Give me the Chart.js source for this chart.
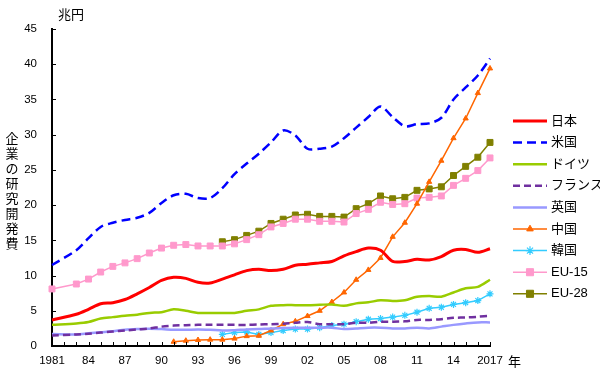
<!DOCTYPE html>
<html>
<head>
<meta charset="utf-8">
<script src="https://cdn.jsdelivr.net/npm/chart.js@4/dist/chart.umd.min.js"></script>
<style>
  html, body { margin: 0; padding: 0; background: #fff; }
  #wrap { width: 600px; height: 373px; position: relative; }
</style>
</head>
<body>
<div id="wrap"><canvas id="myChart" width="600" height="373"></canvas></div>
<script>
const years = [];
for (let y = 1981; y <= 2017; y++) years.push(y);

const tickYears = [1981, 1984, 1987, 1990, 1993, 1996, 1999, 2002, 2005, 2008, 2011, 2014, 2017];

const japan = [3.7, null, 4.5, 5.2, 6.0, 6.15, 6.6, 7.4, 8.3, 9.3,
    9.75, 9.6, 9.05, 8.95, 9.5, 10.1, 10.7, 10.9, 10.7, 10.9,
    11.45, 11.6, 11.8, 12.0, 12.8, 13.4, 13.9, 13.6, 12.0, 12.0,
    12.3, 12.2, 12.7, 13.6, 13.7, 13.3, 13.8];
const usa = [11.5, null, 13.6, 15.3, 16.9, 17.5, 17.9, 18.2, 18.9, 20.3,
    21.4, 21.6, 21.0, 21.0, 22.4, 24.4, 25.9, 27.3, 28.9, 30.6,
    29.9, 28.0, 28.0, 28.3, 29.5, 31.0, 32.5, 34.0, 32.5, 31.2,
    31.5, 31.6, 32.4, 35.0, 36.7, 38.4, 40.8];
const germany = [3.0, null, 3.2, 3.4, 3.9, 4.1, 4.3, 4.45, 4.7, 4.8,
    5.2, 5.0, 4.7, 4.7, 4.7, 4.7, 5.0, 5.2, 5.7, 5.8,
    5.8, 5.8, 5.85, 5.9, 5.7, 6.05, 6.2, 6.5, 6.4, 6.5,
    7.0, 7.1, 7.0, 7.6, 8.2, 8.4, 9.4];
const france = [1.5, null, 1.65, 1.75, 1.9, 2.05, 2.2, 2.35, 2.5, 2.75,
    2.9, 2.95, 3.0, 3.0, 3.0, 3.0, 3.0, 3.05, 3.1, 3.15,
    3.3, 3.4, 3.1, 3.1, 3.1, 3.3, 3.3, 3.45, 3.45, 3.5,
    3.7, 3.7, 3.8, 4.0, 4.05, 4.15, 4.3];
const uk = [1.7, null, 1.65, 1.8, 1.95, 2.1, 2.3, 2.4, 2.45, 2.4,
    2.3, 2.3, 2.35, 2.3, 2.2, 2.25, 2.35, 2.4, 2.5, 2.55,
    2.6, 2.6, 2.6, 2.6, 2.4, 2.5, 2.6, 2.6, 2.5, 2.5,
    2.6, 2.5, 2.75, 3.0, 3.2, 3.35, 3.35];
const china = [null, null, null, null, null, null, null, null, null, null,
    0.6, 0.75, 0.85, 0.9, 0.9, 1.05, 1.4, 1.45, 2.2, 3.1,
    3.5, 4.25, 5.0, 6.25, 7.6, 9.4, 10.8, 12.5, 15.5, 17.5,
    20.2, 23.3, 26.3, 29.5, 32.3, 35.9, 39.4];
const korea = [null, null, null, null, null, null, null, null, null, null,
    null, null, null, null, 1.65, 1.9, 2.0, 1.65, 1.9, 2.2,
    2.4, 2.4, 2.6, 2.9, 3.1, 3.45, 3.8, 3.9, 4.1, 4.35,
    4.8, 5.35, 5.5, 5.9, 6.15, 6.45, 7.4];
const eu15 = [8.1, null, 8.8, 9.5, 10.5, 11.3, 11.8, 12.4, 13.2, 13.9,
    14.3, 14.4, 14.2, 14.2, 14.2, 14.5, 15.1, 15.8, 16.9, 17.4,
    18.0, 18.0, 17.7, 17.7, 17.6, 18.8, 19.4, 20.4, 20.1, 20.2,
    21.0, 21.1, 21.3, 22.8, 23.8, 24.9, 26.7];
const eu28 = [null, null, null, null, null, null, null, null, null, null,
    null, null, null, null, 14.8, 15.1, 15.7, 16.3, 17.4, 18.0,
    18.6, 18.7, 18.4, 18.4, 18.3, 19.5, 20.2, 21.3, 20.9, 21.1,
    22.1, 22.3, 22.6, 24.2, 25.5, 26.8, 28.9];

const FONT = '"Liberation Sans", "Noto Sans CJK JP", sans-serif';

function plainLine(label, data, color, width, dash) {
    return {
        label: label,
        data: data,
        borderColor: color,
        backgroundColor: color,
        borderWidth: width,
        borderDash: dash || [],
        pointRadius: 0,
        tension: 0.3,
        spanGaps: true
    };
}

function markerLine(label, data, color, style, radius) {
    return {
        label: label,
        data: data,
        borderColor: color,
        backgroundColor: color,
        borderWidth: 1.5,
        pointStyle: style,
        pointRadius: radius,
        pointBorderWidth: style === 'star' ? 1.2 : 1,
        tension: 0,
        spanGaps: true
    };
}

// inward ticks, unit labels, vertical title and the legend on the right
const extras = {
    id: 'extras',
    afterDraw(chart) {
        const ctx = chart.ctx;
        const xs = chart.scales.x;
        const ys = chart.scales.y;
        const area = chart.chartArea;
        ctx.save();
        ctx.strokeStyle = '#000';
        ctx.lineWidth = 1;
        ctx.beginPath();
        years.forEach((yr, i) => {
            const px = Math.round(xs.getPixelForValue(i)) + 0.5;
            ctx.moveTo(px, area.bottom);
            ctx.lineTo(px, area.bottom - 4);
        });
        for (let v = 0; v <= 45; v += 5) {
            const py = Math.round(ys.getPixelForValue(v)) + 0.5;
            ctx.moveTo(area.left, py);
            ctx.lineTo(area.left + 4, py);
        }
        ctx.stroke();

        ctx.fillStyle = '#000';
        ctx.font = '13px ' + FONT;
        ctx.textAlign = 'left';
        ctx.textBaseline = 'middle';
        ctx.fillText('兆円', 58, 15);
        ctx.fillText('年', 508, 362);

        ctx.textAlign = 'center';
        const title = '企業の研究開発費';
        for (let i = 0; i < title.length; i++) {
            ctx.fillText(title[i], 12, 139 + i * 15.1);
        }

        // legend
        chart.data.datasets.forEach((ds, i) => {
            const y = 121 + i * 21.6;
            ctx.strokeStyle = ds.borderColor;
            ctx.lineWidth = ds.borderWidth;
            ctx.setLineDash(ds.borderDash || []);
            ctx.beginPath();
            ctx.moveTo(513, y);
            ctx.lineTo(547, y);
            ctx.stroke();
            ctx.setLineDash([]);
            if (ds.pointRadius > 0) {
                ctx.fillStyle = ds.backgroundColor;
                ctx.lineWidth = ds.pointBorderWidth;
                Chart.helpers.drawPoint(ctx, {
                    pointStyle: ds.pointStyle,
                    radius: ds.pointRadius + 0.8,
                    borderWidth: ds.pointBorderWidth,
                    rotation: 0
                }, 530, y);
            }
            ctx.fillStyle = '#000';
            ctx.textAlign = 'left';
            ctx.font = '13px ' + FONT;
            ctx.fillText(ds.label, 551, y);
        });
        ctx.restore();
    }
};

const ctx = document.getElementById('myChart').getContext('2d');
new Chart(ctx, {
    type: 'line',
    data: {
        labels: years,
        datasets: [
            plainLine('日本', japan, '#FF0000', 3),
            plainLine('米国', usa, '#0000FF', 2.5, [9, 5]),
            plainLine('ドイツ', germany, '#99CC00', 2.5),
            plainLine('フランス', france, '#7030A0', 2.5, [7, 4]),
            plainLine('英国', uk, '#9999FF', 2.5),
            markerLine('中国', china, '#FF6600', 'triangle', 3),
            markerLine('韓国', korea, '#33CCFF', 'star', 3.5),
            markerLine('EU-15', eu15, '#FF99CC', 'rect', 4.2),
            markerLine('EU-28', eu28, '#808000', 'rect', 4.2)
        ]
    },
    options: {
        responsive: false,
        animation: false,
        devicePixelRatio: 1,
        layout: { padding: { top: 29, right: 110, left: 0, bottom: 0 } },
        plugins: {
            legend: { display: false },
            tooltip: { enabled: false }
        },
        scales: {
            x: {
                offset: false,
                grid: { display: false, drawTicks: false },
                border: { display: true, color: '#000', width: 2 },
                afterFit: (scale) => { scale.height = 27; },
                ticks: {
                    autoSkip: false,
                    maxRotation: 0,
                    padding: 8,
                    color: '#000',
                    font: { family: FONT, size: 11.5 },
                    callback: function(val, idx) {
                        const yr = years[idx];
                        if (!tickYears.includes(yr)) return '';
                        if (yr === 1981 || yr === 2017) return String(yr);
                        return String(yr).slice(2);
                    }
                }
            },
            y: {
                min: 0,
                max: 45,
                grid: { display: false, drawTicks: false },
                border: { display: true, color: '#000', width: 2 },
                afterFit: (scale) => { scale.width = 52; },
                ticks: {
                    stepSize: 5,
                    padding: 15,
                    color: '#000',
                    font: { family: FONT, size: 11.5 }
                }
            }
        }
    },
    plugins: [extras]
});
</script>
</body>
</html>
